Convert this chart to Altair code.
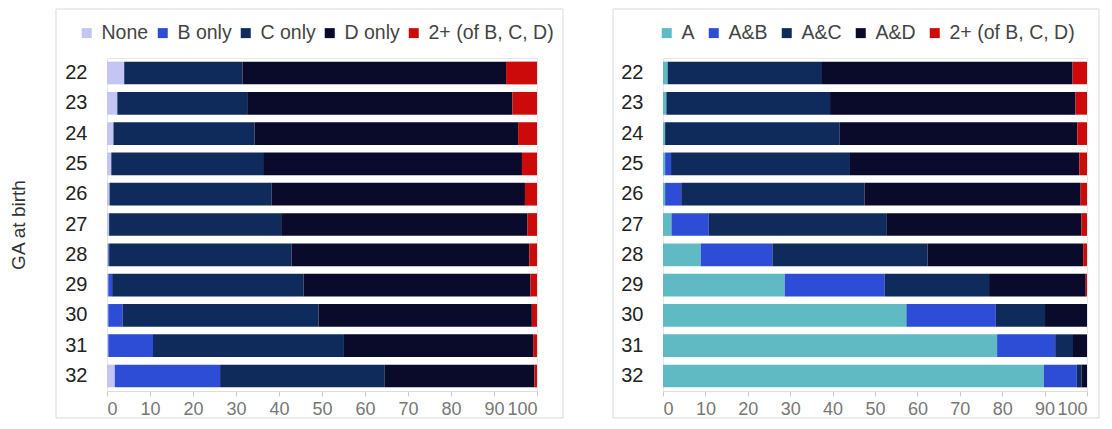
import altair as alt
import pandas as pd

ga = [22, 23, 24, 25, 26, 27, 28, 29, 30, 31, 32]

left_series = ["None", "B only", "C only", "D only", "2+ (of B, C, D)"]
left_colors = ["#c3c6f4", "#2e4dd6", "#0f2b5b", "#0a0b2a", "#cc0a0a"]
none_v = [4.0, 2.4, 1.5, 1.0, 0.6, 0.5, 0.3, 0.3, 0.3, 0.3, 1.8]
b_only = [0.0, 0.0, 0.0, 0.0, 0.0, 0.0, 0.2, 0.9, 3.3, 10.4, 24.5]
c_only = [27.5, 30.2, 32.8, 35.3, 37.7, 40.0, 42.4, 44.5, 45.6, 44.4, 38.3]
d_only = [61.3, 61.7, 61.3, 60.2, 58.9, 57.3, 55.3, 52.8, 49.6, 44.0, 34.8]
two_plus_l = [7.2, 5.7, 4.4, 3.5, 2.8, 2.2, 1.8, 1.5, 1.2, 0.9, 0.6]

right_series = ["A", "A&B", "A&C", "A&D", "2+ (of B, C, D)"]
right_colors = ["#5fbac4", "#2e4dd6", "#0f2b5b", "#0a0b2a", "#cc0a0a"]
a_v = [1.1, 0.8, 0.5, 0.5, 0.5, 2.0, 8.9, 28.7, 57.4, 78.8, 89.8]
ab_v = [0.0, 0.0, 0.0, 1.4, 3.8, 8.8, 16.9, 23.6, 21.1, 13.7, 7.8]
ac_v = [36.4, 38.6, 41.1, 42.2, 43.2, 42.0, 36.6, 24.6, 11.6, 4.2, 1.1]
ad_v = [59.1, 57.9, 56.1, 54.1, 51.0, 45.9, 36.7, 22.8, 9.9, 3.3, 1.3]
two_plus_r = [3.4, 2.7, 2.3, 1.8, 1.5, 1.3, 0.9, 0.3, 0.0, 0.0, 0.0]


def long_df(series, cols):
    rows = []
    for k, (name, vals) in enumerate(zip(series, cols)):
        for g, v in zip(ga, vals):
            rows.append({"ga": g, "series": name, "value": v, "ord": k})
    return pd.DataFrame(rows)


df_left = long_df(left_series, [none_v, b_only, c_only, d_only, two_plus_l])
df_right = long_df(right_series, [a_v, ab_v, ac_v, ad_v, two_plus_r])

H = 333


def panel(df, series, colors, width, ytitle, legend_x, col_pad, frame):
    ykw = dict(labelPadding=20, ticks=False, domain=False, labelFontSize=20,
               labelColor="#222222")
    if ytitle:
        yaxis = alt.Axis(title=ytitle, titleFontSize=19, titleFontWeight="normal",
                         titleColor="#333333", titlePadding=36, **ykw)
    else:
        yaxis = alt.Axis(title=None, **ykw)
    bars = alt.Chart(df).mark_bar().encode(
        y=alt.Y("ga:O", sort=ga, axis=yaxis,
                scale=alt.Scale(paddingInner=0.25, paddingOuter=0.12)),
        x=alt.X("value:Q", stack="zero",
                scale=alt.Scale(domain=[0, 100], nice=False),
                axis=alt.Axis(title=None, values=list(range(0, 101, 10)),
                              grid=False, labelFontSize=18, labelColor="#777777",
                              tickColor="#cccccc", tickSize=5, domainColor="#dddddd",
                              labelPadding=4)),
        color=alt.Color("series:N",
                        scale=alt.Scale(domain=series, range=colors),
                        legend=alt.Legend(title=None, orient="none", legendX=legend_x,
                                          legendY=-35, direction="horizontal",
                                          columns=5, columnPadding=col_pad,
                                          symbolType="square", symbolSize=100,
                                          symbolStrokeWidth=0, labelFontSize=19.5,
                                          labelColor="#444444", labelOffset=5)),
        order=alt.Order("ord:Q"),
    ).properties(width=width, height=H)
    fr = alt.Chart(pd.DataFrame({"a": [0]})).mark_rect(
        fillOpacity=0, stroke="#d9d9d9", strokeWidth=1
    ).encode(x=alt.value(frame[0]), x2=alt.value(frame[1]),
             y=alt.value(frame[2]), y2=alt.value(frame[3]))
    return alt.layer(fr, bars)


left = panel(df_left, left_series, left_colors, 430, "GA at birth", -30, 4,
             (-51, 456, -49, 360))
right = panel(df_right, right_series, right_colors, 424, None, -6, 9,
              (-50, 436, -49, 360))

chart = alt.hconcat(left, right, spacing=126, bounds="flush").resolve_scale(
    color="independent"
).properties(
    padding={"left": 1, "top": 0, "right": 0, "bottom": 0}
).configure(
    font="Liberation Sans"
).configure_view(
    stroke="#e6e6e6"
)

chart.save("out.html", embed_options={"renderer": "svg", "actions": False})
